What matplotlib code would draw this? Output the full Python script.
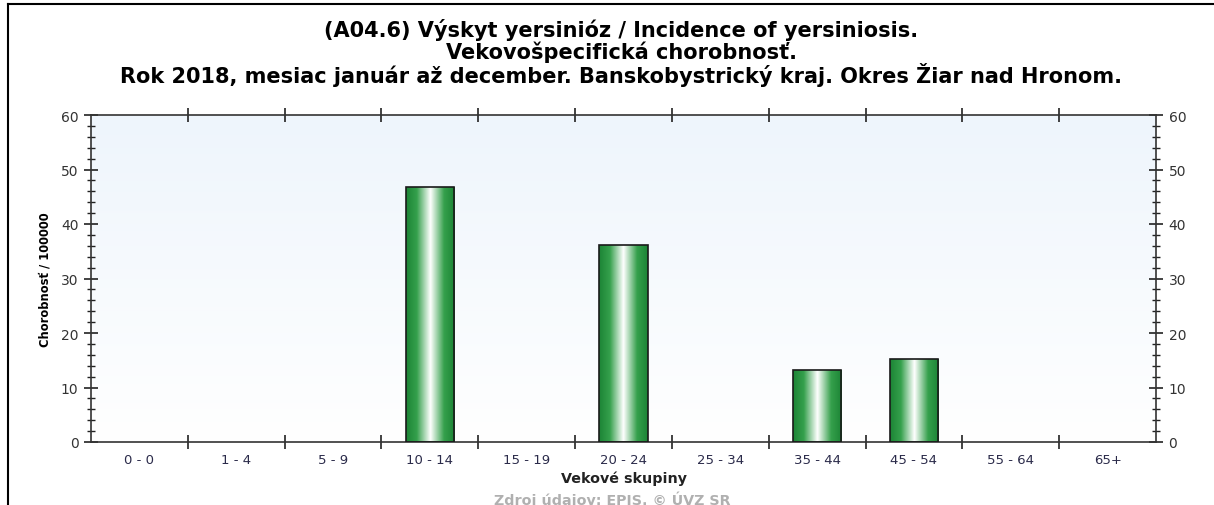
import numpy as np
import matplotlib
matplotlib.use("Agg")
import matplotlib.pyplot as plt
from matplotlib.colors import LinearSegmentedColormap
from matplotlib.ticker import MultipleLocator, FixedLocator

categories = ["0 - 0", "1 - 4", "5 - 9", "10 - 14", "15 - 19", "20 - 24", "25 - 34",
              "35 - 44", "45 - 54", "55 - 64", "65+"]
values = [0, 0, 0, 46.8, 0, 36.1, 0, 13.2, 15.2, 0, 0]
title_lines = ["(A04.6) Výskyt yersinióz / Incidence of yersiniosis.",
               "Vekovošpecifická chorobnosť.",
               "Rok 2018, mesiac január až december. Banskobystrický kraj. Okres Žiar nad Hronom."]
ylabel = "Chorobnosť / 100000"
xlabel = "Vekové skupiny"
source = "Zdroj údajov: EPIS. © ÚVZ SR"

plt.rcParams['font.family'] = ['DejaVu Sans']

W, H = 1214, 506
fig = plt.figure(figsize=(W / 100, H / 100), dpi=100)
ax = fig.add_axes([91 / W, 1 - 443 / H, (1156 - 91) / W, (443 - 116) / H])

n = len(categories)
x = np.arange(n)

# background gradient
bg = np.linspace(0, 1, 256).reshape(-1, 1)
bg_cmap = LinearSegmentedColormap.from_list("bg", ["#ffffff", "#eef5fc"])
ax.imshow(bg, aspect='auto', cmap=bg_cmap, origin='lower',
          extent=(-0.5, n - 0.5, 0, 60), zorder=0)

# bars with horizontal gradient
bar_cmap = LinearSegmentedColormap.from_list(
    "bar", [(0, "#1c8435"), (0.22, "#35a04c"), (0.5, "#ffffff"), (0.78, "#35a04c"), (1, "#1c8435")])
grad = np.linspace(0, 1, 256).reshape(1, -1)
edgecolors = ['#1a1a1a' if v > 0 else 'none' for v in values]
bars = ax.bar(x, values, width=0.5, facecolor='none', edgecolor=edgecolors, linewidth=1.2, zorder=3)
for b, v in zip(bars, values):
    if v <= 0:
        continue
    x0 = b.get_x()
    im = ax.imshow(grad, aspect='auto', cmap=bar_cmap,
                   extent=(x0, x0 + b.get_width(), 0, v), zorder=2)
    im.set_clip_path(b)
ax.set_xlim(-0.5, n - 0.5)
ax.set_ylim(0, 60)

for s in ax.spines.values():
    s.set_color('#333333')
    s.set_linewidth(1.2)

ax.set_xticks(x)
ax.set_xticklabels(categories)
ax.tick_params(axis='x', which='major', length=0, pad=8, labelsize=9.5, labelcolor='#2b2b4a')
ax.xaxis.set_minor_locator(FixedLocator(np.arange(0.5, n - 0.5, 1)))
ax.tick_params(axis='x', which='minor', direction='inout', length=10, width=1.2,
               color='#222222', top=True, bottom=True)

ax.yaxis.set_major_locator(MultipleLocator(10))
ax.yaxis.set_minor_locator(MultipleLocator(2))
ax.tick_params(axis='y', which='major', direction='inout', length=10, width=1.2, color='#222222',
               left=True, right=True, labelleft=True, labelright=True,
               labelsize=10, labelcolor='#333333', pad=4)
ax.tick_params(axis='y', which='minor', direction='inout', length=6, width=1.0, color='#222222',
               left=True, right=True)

ax.set_ylabel(ylabel, fontsize=8.3, fontweight='bold', labelpad=7)
fig.text(624 / W, 1 - 479 / H, xlabel, ha='center', va='center',
         fontsize=10.3, fontweight='bold', color='#222222')
fig.text(612 / W, 1 - 500 / H, source, ha='center', va='center',
         fontsize=10.3, fontweight='bold', color='#b0b0b0')

ys = [30, 52, 75]
for t, yy in zip(title_lines, ys):
    fig.text(621 / W, 1 - yy / H, t, ha='center', va='center', fontsize=15, fontweight='bold')

fig.add_artist(plt.Line2D([8 / W, 8 / W], [0, 1 - 5 / H], transform=fig.transFigure,
                          color='black', linewidth=1.5))
fig.add_artist(plt.Line2D([8 / W, 1], [1 - 5 / H, 1 - 5 / H], transform=fig.transFigure,
                          color='black', linewidth=1.5))

fig.savefig("out.png", dpi=100)
